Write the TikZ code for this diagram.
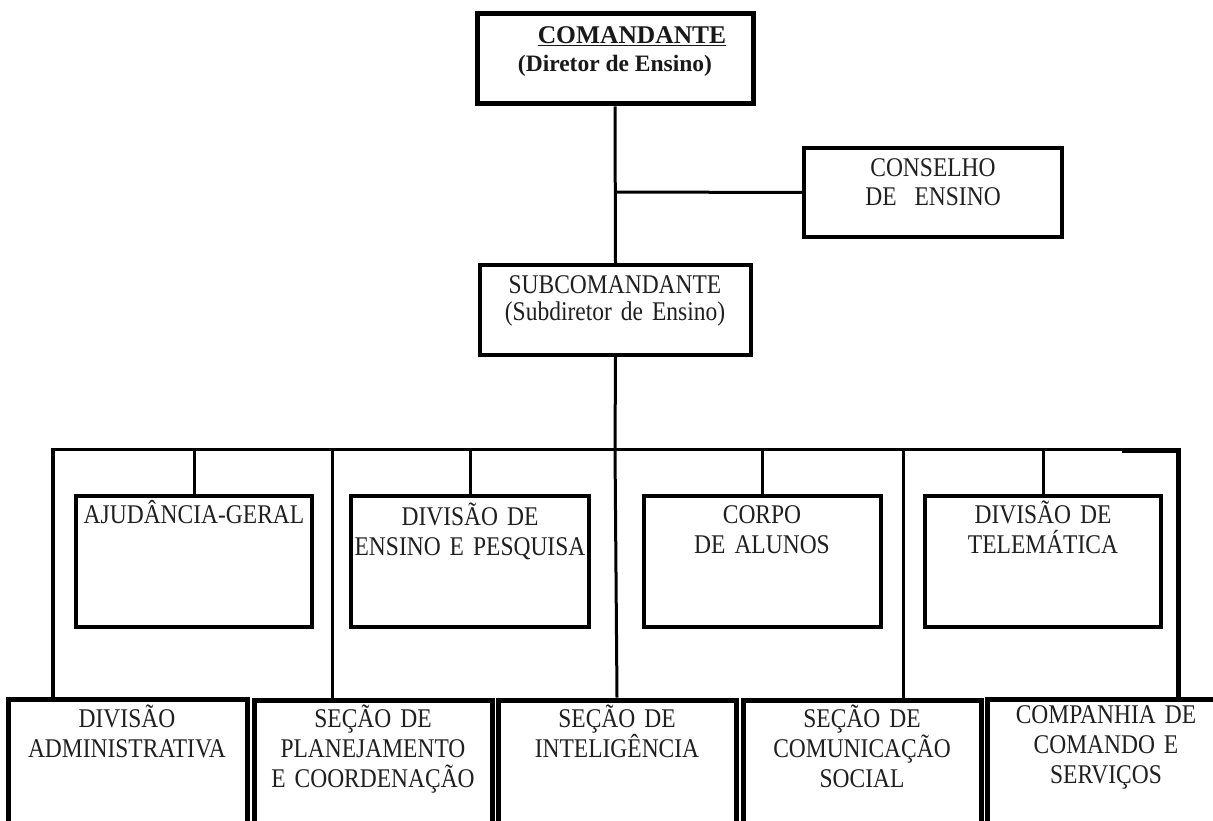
\documentclass[tikz,border=0pt]{standalone}
\usepackage{fontspec}
\setmainfont{Liberation Serif}
\newfontfamily\lbfont{Liberation Serif}[FakeStretch=0.87]
\newcommand\lbsel[1]{\lbfont\fontsize{27}{#1}\selectfont\fontdimen2\font=4.2pt\relax}
\usetikzlibrary{fit}
\tikzset{
  box/.style={draw, line width=4pt, inner sep=0pt},
  thickbox/.style={draw, line width=5pt, inner sep=0pt},
  conn/.style={line width=3pt},
  lbl/.style={inner sep=0pt, text width=236pt, align=center, anchor=base,
    text=black!88, font=\lbsel{30}},
  boldlbl/.style={inner sep=0pt, anchor=base, text=black!90,
    font=\bfseries\fontsize{25.5}{28}\selectfont},
}
\begin{document}
\begin{tikzpicture}[x=1pt,y=-1pt]
\clip (0,0) rectangle (1213,821);
\fill[white] (0,0) rectangle (1213,821);

% top boxes
\node[thickbox, fit={(477,14) (753,104)}] (cmd) {};
\node[box, fit={(804,148) (1062,237)}] (cons) {};
\node[box, fit={(480,265) (751,355)}] (sub) {};

% middle row
\node[box, fit={(76,496) (312,627)}] (ajg) {};
\node[box, fit={(351,496) (589,627)}] (dep) {};
\node[box, fit={(644,496) (881,627)}] (cda) {};
\node[box, fit={(925,496) (1161,627)}] (dtl) {};

% bottom row
\node[thickbox, fit={(8,699) (247,880)}] (dad) {};
\node[thickbox, fit={(254,700) (492,880)}] (spc) {};
\node[thickbox, fit={(498,700) (736,880)}] (sin) {};
\node[thickbox, fit={(743,700) (981,880)}] (scs) {};
\node[thickbox, fit={(987,699) (1225,880)}] (ccs) {};

% labels
\node[boldlbl] (cmdt1) at (632,44) {\underline{COMANDANTE}};
\node[boldlbl, font=\bfseries\fontsize{23.5}{28}\selectfont] (cmdt2) at (615,72) {(Diretor de Ensino)};
\node[lbl, font=\lbsel{29}] (const) at (933,177) {CONSELHO\\DE\ \ ENSINO};
\node[lbl, font=\lbsel{27}] (subt) at (615,293) {SUBCOMANDANTE\\(Subdiretor de Ensino)};
\node[lbl] (ajgt) at (194,523) {AJUDÂNCIA-GERAL};
\node[lbl] (dept) at (470,525) {DIVISÃO DE\\ENSINO E PESQUISA};
\node[lbl] (cdat) at (762,523) {CORPO\\DE ALUNOS};
\node[lbl] (dtlt) at (1043,523) {DIVISÃO DE\\TELEMÁTICA};
\node[lbl] (dadt) at (127,727) {DIVISÃO\\ADMINISTRATIVA};
\node[lbl] (spct) at (373,727) {SEÇÃO DE\\PLANEJAMENTO\\E COORDENAÇÃO};
\node[lbl] (sint) at (617,727) {SEÇÃO DE\\INTELIGÊNCIA};
\node[lbl] (scst) at (862,727) {SEÇÃO DE\\COMUNICAÇÃO\\SOCIAL};
\node[lbl] (ccst) at (1106,723) {COMPANHIA DE\\COMANDO E\\SERVIÇOS};

% connector points
\coordinate (jc) at (615,192);
\coordinate (bus) at (615,449);
\coordinate (bL) at (53,449);
\coordinate (bR) at (1178,449);
\coordinate (bT) at (1122,450);
\coordinate (b2) at (332,449);
\coordinate (b4) at (903,449);

% connectors
\draw[conn] (cmd.south) -- (sub.north);
\draw[conn] (jc) -- (cons.west);
\draw[conn] (sub.south) -- (bus);
\draw[conn] (bL) -- (bR);
\draw[line width=5pt] (bT) -- (bT -| bR);
\draw[conn] (ajg.north) -- (ajg.north |- bus);
\draw[conn] (dep.north) -- (dep.north |- bus);
\draw[conn] (cda.north) -- (cda.north |- bus);
\draw[conn] (dtl.north) -- (dtl.north |- bus);
\draw[line width=4pt] ([yshift=1.5pt]bL) -- (bL |- dad.north);
\draw[conn] (b2) -- (b2 |- spc.north);
\draw[conn] (bus) -- (sin.north);
\draw[conn] (b4) -- (b4 |- scs.north);
\draw[line width=5pt] ([yshift=1.5pt]bR) -- (bR |- ccs.north);
\end{tikzpicture}
\end{document}
